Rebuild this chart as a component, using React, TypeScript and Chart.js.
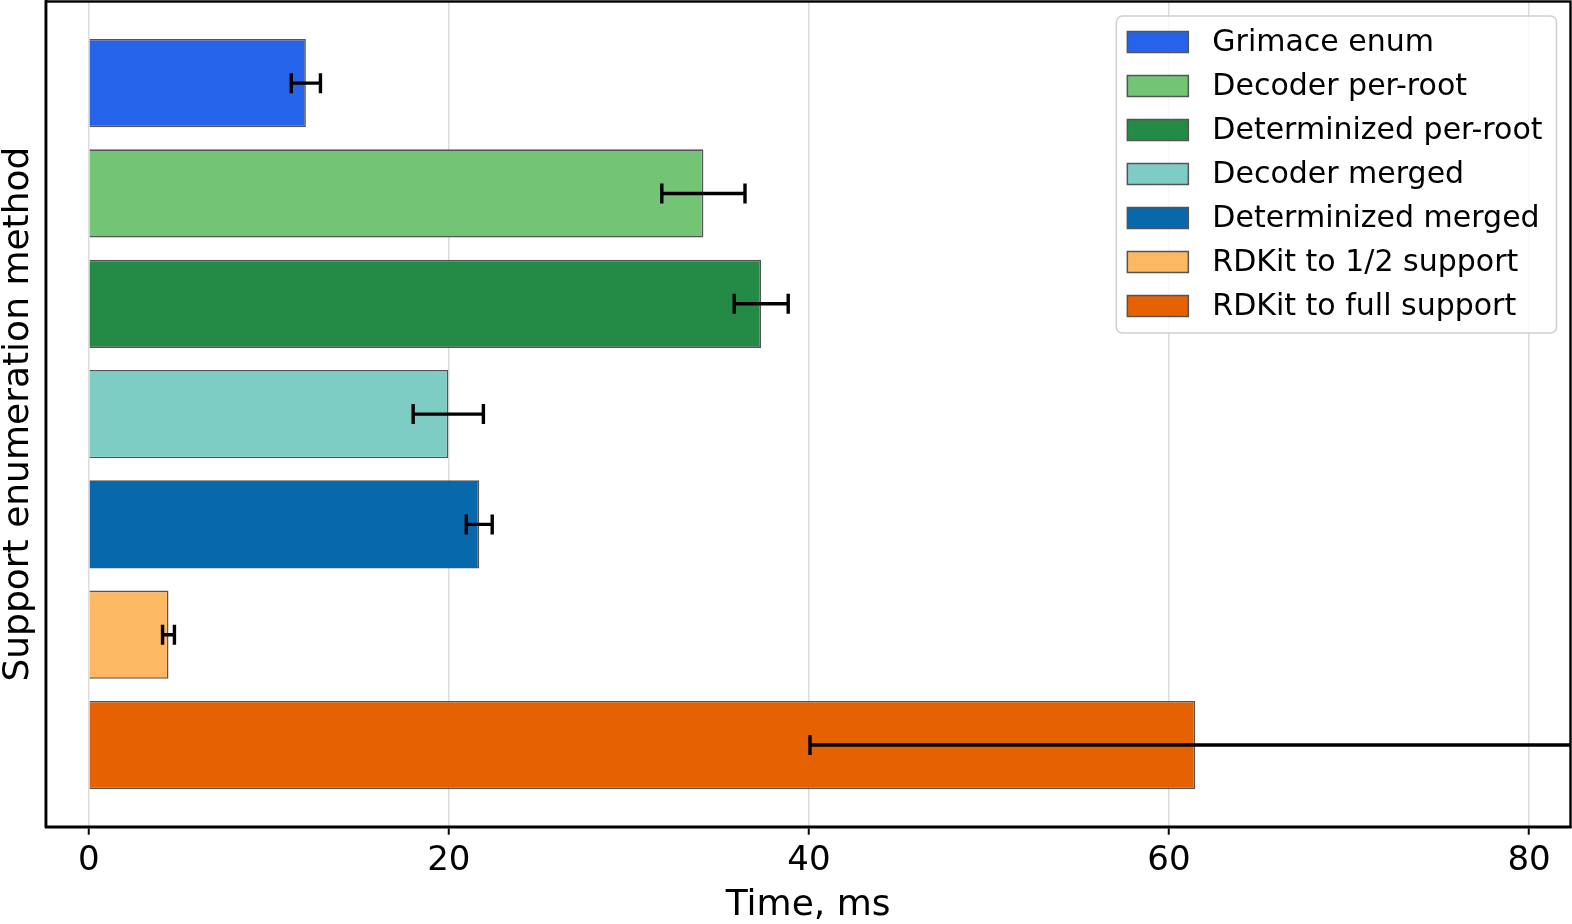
import React, { useEffect, useRef } from "react";
import { Chart, registerables } from "chart.js";

Chart.register(...registerables);

// Methods compared, top to bottom
const methods = [
  "Grimace enum",
  "Decoder per-root",
  "Determinized per-root",
  "Decoder merged",
  "Determinized merged",
  "RDKit to 1/2 support",
  "RDKit to full support",
];

// Mean enumeration time, ms
const meanTimes = [12.06, 34.14, 37.35, 19.97, 21.69, 4.43, 61.46];

// Standard deviation, ms (symmetric error bars)
const stdTimes = [0.81, 2.31, 1.5, 1.95, 0.72, 0.33, 21.4];

const barColors = ["#2563eb", "#74c476", "#238b45", "#7ecdc4", "#0868ac", "#fdb863", "#e66101"];

const xTicks = [0, 20, 40, 60, 80];

const FONT = "'DejaVu Sans', sans-serif";

export default function App() {
  const canvasRef = useRef<HTMLCanvasElement | null>(null);

  useEffect(() => {
    document.body.style.margin = "0";
    const canvas = canvasRef.current;
    if (!canvas) return;

    const decorations = {
      id: "decorations",
      afterDatasetsDraw(chart: any) {
        const { ctx, chartArea } = chart;
        const xs = chart.scales.x;
        const ys = chart.scales.y;
        // error bars
        ctx.save();
        ctx.beginPath();
        ctx.rect(chartArea.left, chartArea.top, chartArea.right - chartArea.left, chartArea.bottom - chartArea.top);
        ctx.clip();
        ctx.strokeStyle = "#000";
        ctx.lineWidth = 3.4;
        ctx.lineCap = "butt";
        meanTimes.forEach((m, i) => {
          const y = ys.getPixelForValue(i);
          const x0 = xs.getPixelForValue(m - stdTimes[i]);
          const x1 = xs.getPixelForValue(m + stdTimes[i]);
          ctx.beginPath();
          ctx.moveTo(x0, y);
          ctx.lineTo(x1, y);
          ctx.moveTo(x0, y - 10);
          ctx.lineTo(x0, y + 10);
          ctx.moveTo(x1, y - 10);
          ctx.lineTo(x1, y + 10);
          ctx.stroke();
        });
        ctx.restore();
      },
      afterDraw(chart: any) {
        const { ctx, chartArea } = chart;
        ctx.save();
        // frame
        ctx.strokeStyle = "#000";
        ctx.lineWidth = 2.4;
        ctx.strokeRect(chartArea.left, chartArea.top, chartArea.right - chartArea.left, chartArea.bottom - chartArea.top);

        // axis titles
        ctx.fillStyle = "#000";
        ctx.font = `36px ${FONT}`;
        ctx.textAlign = "center";
        ctx.textBaseline = "alphabetic";
        ctx.fillText("Time, ms", (chartArea.left + chartArea.right) / 2, chartArea.bottom + 88);
        ctx.save();
        ctx.translate(chartArea.left - 18, (chartArea.top + chartArea.bottom) / 2);
        ctx.rotate(-Math.PI / 2);
        ctx.fillText("Support enumeration method", 0, 0);
        ctx.restore();

        // legend
        ctx.font = `30px ${FONT}`;
        const maxW = Math.max(...methods.map((m) => ctx.measureText(m).width));
        const padL = 11, handleW = 61, handleH = 21, gap = 24, padR = 14, rowH = 44;
        const boxW = padL + handleW + gap + maxW + padR;
        const boxH = rowH * methods.length + 9;
        const boxRight = chartArea.right - 14;
        const boxLeft = boxRight - boxW;
        const boxTop = chartArea.top + 14.5;
        ctx.beginPath();
        ctx.roundRect(boxLeft, boxTop, boxW, boxH, 6);
        ctx.fillStyle = "rgba(255,255,255,0.8)";
        ctx.fill();
        ctx.strokeStyle = "#d0d0d0";
        ctx.lineWidth = 1.6;
        ctx.stroke();
        ctx.textAlign = "left";
        ctx.textBaseline = "middle";
        methods.forEach((m, i) => {
          const cy = boxTop + 26 + i * rowH;
          ctx.fillStyle = barColors[i];
          ctx.fillRect(boxLeft + padL, cy - handleH / 2, handleW, handleH);
          ctx.strokeStyle = "#555";
          ctx.lineWidth = 1.5;
          ctx.strokeRect(boxLeft + padL, cy - handleH / 2, handleW, handleH);
          ctx.fillStyle = "#000";
          ctx.fillText(m, boxLeft + padL + handleW + gap, cy + 1);
        });
        ctx.restore();
      },
    };

    const chart = new Chart(canvas, {
      type: "bar",
      data: {
        datasets: [
          {
            label: "Time",
            data: meanTimes.map((v, i) => ({ x: v, y: i })),
            backgroundColor: barColors,
            borderColor: "#555",
            borderWidth: 1.6,
            barPercentage: 0.8,
            categoryPercentage: 1.0,
          },
        ],
      },
      options: {
        indexAxis: "y",
        responsive: false,
        animation: false,
        layout: { padding: { top: 1.5, right: 1.5, left: 0, bottom: 0 } },
        plugins: { legend: { display: false }, tooltip: { enabled: false } },
        scales: {
          x: {
            type: "linear",
            min: -2.39,
            max: 82.3,
            afterBuildTicks(scale: any) {
              scale.ticks = xTicks.map((v) => ({ value: v }));
            },
            afterFit(scale: any) {
              scale.height = 97.3;
            },
            grid: {
              color: "#dcdcdc",
              lineWidth: 1.5,
              drawTicks: true,
              tickLength: 8,
              tickColor: "#000",
              tickWidth: 2,
            },
            border: { display: true, color: "#000", width: 2.4 },
            ticks: {
              color: "#000",
              font: { family: FONT, size: 34 },
              padding: 6,
              maxRotation: 0,
            },
          },
          y: {
            type: "linear",
            reverse: true,
            offset: false,
            min: -0.74,
            max: 6.74,
            afterBuildTicks(scale: any) {
              scale.ticks = methods.map((_, i) => ({ value: i }));
            },
            afterFit(scale: any) {
              scale.width = 45.7;
            },
            grid: { display: false, offset: false },
            border: { display: true, color: "#000", width: 2.4 },
            ticks: { display: false },
          },
        },
      },
      plugins: [decorations],
    });

    return () => chart.destroy();
  }, []);

  return (
    <div style={{ width: 1572, height: 924, background: "#fff" }}>
      <canvas ref={canvasRef} width={1572} height={924} style={{ display: "block" }} />
    </div>
  );
}
